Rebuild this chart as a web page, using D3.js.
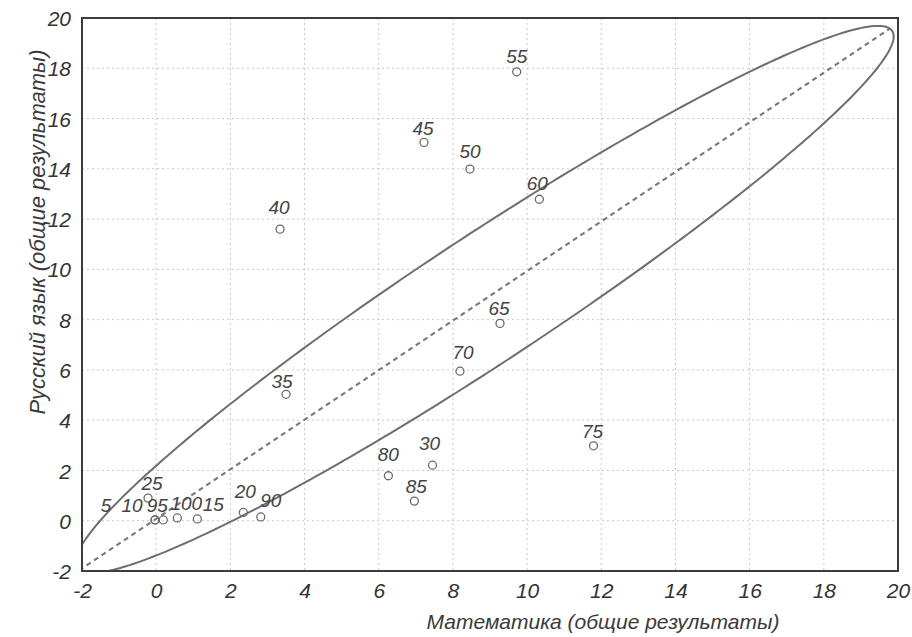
<!DOCTYPE html>
<html>
<head>
<meta charset="utf-8">
<script src="https://cdn.jsdelivr.net/npm/d3@7"></script>
<style>
  html, body { margin: 0; padding: 0; background: #ffffff; }
  svg { display: block; }
  text { font-family: "Liberation Sans", Arial, sans-serif; font-style: italic; }
</style>
</head>
<body>
<svg id="chart" width="912" height="637"></svg>
<script>
// Survey results: each point is one respondent group, labelled by its number
const pointLabels = ["5", "10", "15", "20", "25", "30", "35", "40", "45", "50",
                     "55", "60", "65", "70", "75", "80", "85", "90", "95", "100"];
const mathScores  = [-0.03, -0.03, 1.11, 2.35, -0.22, 7.45, 3.50, 3.34, 7.22, 8.46,
                     9.72, 10.33, 9.27, 8.19, 11.79, 6.26, 6.96, 2.82, 0.19, 0.57];
const russianScores = [0.03, 0.03, 0.07, 0.33, 0.90, 2.21, 5.03, 11.60, 15.05, 13.99,
                       17.86, 12.79, 7.85, 5.95, 2.98, 1.79, 0.78, 0.15, 0.03, 0.11];

// Axis ticks
const xTicks = [-2, 0, 2, 4, 6, 8, 10, 12, 14, 16, 18, 20];
const yTicks = [-2, 0, 2, 4, 6, 8, 10, 12, 14, 16, 18, 20];

// Confidence ellipse: centre, semi-axes and tilt of the major axis (degrees)
const ellipseCenter = [8.85, 8.8];
const ellipseSemiAxes = [15.35, 2.15];
const ellipseAngle = 44.6;

// Axis titles
const xTitle = "Математика (общие результаты)";
const yTitle = "Русский язык (общие результаты)";

// Label nudges (pixels) so overlapping labels stay readable
const labelNudge = {
  "5": [-49, -8], "10": [-23, -8], "95": [-6, -8], "100": [9, -8], "15": [16, -8],
  "25": [4, -8], "20": [2, -14], "90": [10, -10], "40": [-1, -15], "35": [-4, -6],
  "30": [-3, -15], "80": [0, -15], "70": [3, -12], "45": [-1, -7], "50": [0, -11],
  "60": [-2, -9], "65": [-1, -8], "75": [-1, -8], "85": [2, -8], "55": [0, -9]
};

const svg = d3.select("#chart");
const W = 912, H = 637;
const plot = { left: 82, right: 898, top: 18, bottom: 571 };

svg.append("rect").attr("width", W).attr("height", H).attr("fill", "#ffffff");

const x = d3.scaleLinear().domain([-2, 20]).range([plot.left, plot.right]);
const y = d3.scaleLinear().domain([-2, 20]).range([plot.bottom, plot.top]);

// Clip region for the ellipse and its axis
svg.append("defs").append("clipPath").attr("id", "plotClip")
  .append("rect")
  .attr("x", plot.left).attr("y", plot.top)
  .attr("width", plot.right - plot.left).attr("height", plot.bottom - plot.top);

// Dotted grid
const grid = svg.append("g").attr("class", "grid");
grid.selectAll("line.v").data(xTicks.slice(1, -1)).join("line")
  .attr("x1", d => x(d)).attr("x2", d => x(d))
  .attr("y1", plot.top).attr("y2", plot.bottom)
  .attr("stroke", "#c8c8c8").attr("stroke-width", 1).attr("stroke-dasharray", "2,3");
grid.selectAll("line.h").data(yTicks.slice(1, -1)).join("line")
  .attr("x1", plot.left).attr("x2", plot.right)
  .attr("y1", d => y(d)).attr("y2", d => y(d))
  .attr("stroke", "#c8c8c8").attr("stroke-width", 1).attr("stroke-dasharray", "2,3");

// Ellipse outline, traced in data space
const th = ellipseAngle * Math.PI / 180;
const [ea, eb] = ellipseSemiAxes;
const ellipsePts = d3.range(0, 361, 1).map(deg => {
  const t = deg * Math.PI / 180;
  return [
    ellipseCenter[0] + ea * Math.cos(t) * Math.cos(th) - eb * Math.sin(t) * Math.sin(th),
    ellipseCenter[1] + ea * Math.cos(t) * Math.sin(th) + eb * Math.sin(t) * Math.cos(th)
  ];
});
const line = d3.line().x(d => x(d[0])).y(d => y(d[1]));

const shapes = svg.append("g").attr("clip-path", "url(#plotClip)");
shapes.append("path")
  .attr("d", line(ellipsePts))
  .attr("fill", "none").attr("stroke", "#6e6e6e").attr("stroke-width", 2);

// Major axis of the ellipse (dashed)
const majorEnds = [-1, 1].map(s => [
  ellipseCenter[0] + s * ea * Math.cos(th),
  ellipseCenter[1] + s * ea * Math.sin(th)
]);
shapes.append("path")
  .attr("d", line(majorEnds))
  .attr("fill", "none").attr("stroke", "#7a7a7a").attr("stroke-width", 2.2)
  .attr("stroke-dasharray", "5,4");

// Points
const pts = pointLabels.map((lab, i) => ({ lab, mx: mathScores[i], ry: russianScores[i] }));
svg.append("g").selectAll("circle").data(pts).join("circle")
  .attr("cx", d => x(d.mx)).attr("cy", d => y(d.ry)).attr("r", 4)
  .attr("fill", "none").attr("stroke", "#6a6a6a").attr("stroke-width", 1.3);

svg.append("g").selectAll("text").data(pts).join("text")
  .attr("x", d => x(d.mx) + (labelNudge[d.lab] || [0, -9])[0])
  .attr("y", d => y(d.ry) + (labelNudge[d.lab] || [0, -9])[1])
  .attr("text-anchor", "middle")
  .attr("font-size", 19).attr("fill", "#444")
  .text(d => d.lab);

// Frame
svg.append("rect")
  .attr("x", plot.left).attr("y", plot.top)
  .attr("width", plot.right - plot.left).attr("height", plot.bottom - plot.top)
  .attr("fill", "none").attr("stroke", "#3c3c3c").attr("stroke-width", 2);

// Axes (labels only; the frame stands in for the domain lines)
const fmt = d => String(d);
const xAxis = d3.axisBottom(x).tickValues(xTicks).tickFormat(fmt).tickSize(0).tickPadding(0);
const gx = svg.append("g").attr("transform", `translate(0,${plot.bottom})`).call(xAxis);
gx.select(".domain").remove();
gx.selectAll("text")
  .attr("y", 27).attr("dy", 0)
  .attr("font-size", 21).attr("fill", "#333")
  .style("font-family", "'Liberation Sans', Arial, sans-serif").style("font-style", "italic");

const yAxis = d3.axisLeft(y).tickValues(yTicks).tickFormat(fmt).tickSize(0).tickPadding(0);
const gy = svg.append("g").attr("transform", `translate(${plot.left - 11},0)`).call(yAxis);
gy.select(".domain").remove();
gy.selectAll("text")
  .attr("x", 0).attr("dy", "0.36em")
  .attr("font-size", 21).attr("fill", "#333")
  .style("font-family", "'Liberation Sans', Arial, sans-serif").style("font-style", "italic");

// Axis titles
svg.append("text")
  .attr("x", 603).attr("y", 629)
  .attr("text-anchor", "middle")
  .attr("font-size", 21).attr("fill", "#3a3a3a")
  .text(xTitle);

svg.append("text")
  .attr("transform", "translate(45,232) rotate(-90)")
  .attr("text-anchor", "middle")
  .attr("font-size", 22).attr("fill", "#3a3a3a")
  .text(yTitle);
</script>
</body>
</html>
